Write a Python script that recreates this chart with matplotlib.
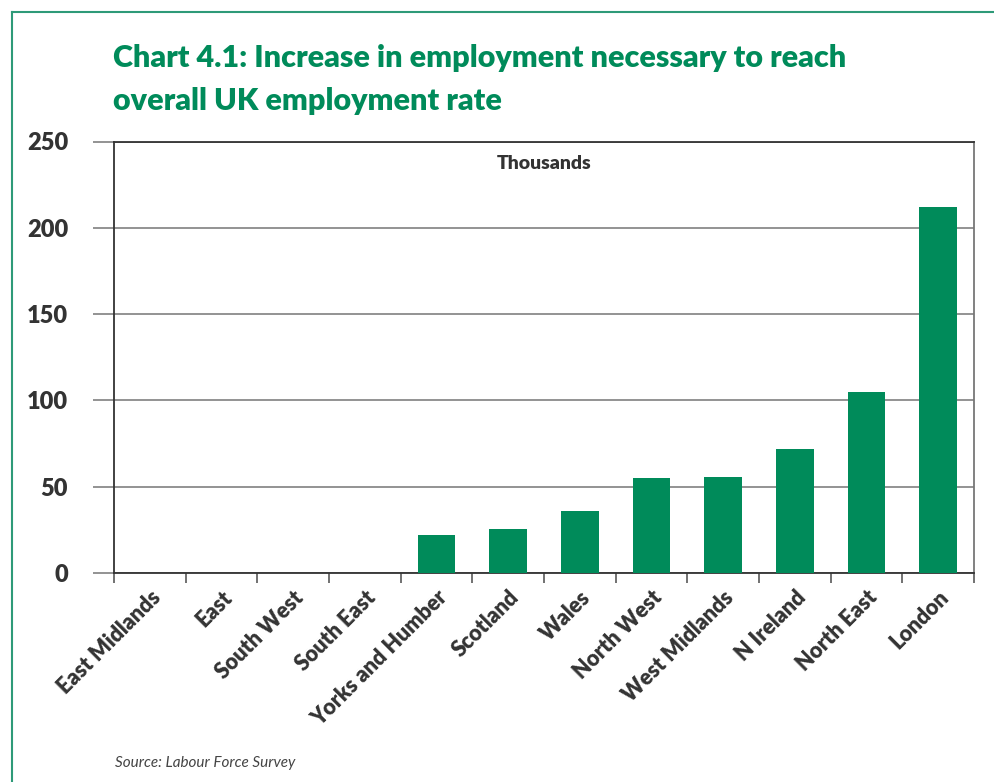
import matplotlib
matplotlib.use('Agg')
import matplotlib.pyplot as plt
from matplotlib.lines import Line2D
import numpy as np

regions = ['East Midlands', 'East', 'South West', 'South East', 'Yorks and Humber',
           'Scotland', 'Wales', 'North West', 'West Midlands', 'N Ireland',
           'North East', 'London']
increase = [0, 0, 0, 0, 22, 25.5, 36, 55, 55.5, 72, 105, 212]
y_ticks = [0, 50, 100, 150, 200, 250]

green = '#008B5A'
dark = '#333333'

plt.rcParams['font.family'] = ['Lato', 'DejaVu Sans']

fig = plt.figure(figsize=(9.95, 7.82), dpi=100)
ax = fig.add_axes([114 / 995, 1 - 573 / 782, (974 - 114) / 995, (573 - 141.5) / 782])

x = np.arange(len(regions))
ax.bar(x, increase, width=0.53, color=green, zorder=3)

ax.set_xlim(-0.5, len(regions) - 0.5)
ax.set_ylim(0, 250)
ax.set_yticks(y_ticks)
ax.set_yticklabels([str(v) for v in y_ticks], fontsize=17, fontweight='heavy', color=dark)
ax.yaxis.grid(True, color='#8a8a8a', linewidth=1.3, zorder=1)
ax.tick_params(axis='y', length=15, width=1.3, color='#8a8a8a', pad=18)

# category labels at centres, tick marks on the boundaries
ax.set_xticks(x)
ax.set_xticklabels(regions, rotation=45, ha='right', va='top', rotation_mode='anchor',
                   fontsize=15.5, fontweight='heavy', color=dark)
ax.tick_params(axis='x', which='major', length=0, pad=10)
ax.set_xticks(np.arange(-0.5, len(regions)), minor=True)
ax.tick_params(axis='x', which='minor', length=7, width=1.3, color='#666666')

for side in ['left', 'right', 'top', 'bottom']:
    ax.spines[side].set_color('#333333')
    ax.spines[side].set_linewidth(1.3)
ax.spines['right'].set_color('#777777')

ax.text(0.5, 0.95, 'Thousands', transform=ax.transAxes, ha='center', va='center',
        fontsize=14, fontweight='heavy', color=dark)

fig.text(113 / 995, 1 - 58 / 782, 'Chart 4.1: Increase in employment necessary to reach',
         fontsize=22, fontweight='heavy', color=green, va='center')
fig.text(113 / 995, 1 - 101 / 782, 'overall UK employment rate',
         fontsize=22, fontweight='heavy', color=green, va='center')

fig.text(115 / 995, 1 - 763 / 782, 'Source: Labour Force Survey', fontsize=11,
         style='italic', color='#444444', va='center')

# green frame along the top and left edges
fig.add_artist(Line2D([12 / 995, 1], [1 - 12 / 782, 1 - 12 / 782], color='#2e9a78', lw=1.5))
fig.add_artist(Line2D([12 / 995, 12 / 995], [0, 1 - 12 / 782], color='#2e9a78', lw=1.5))

fig.savefig('out.png', dpi=100)
